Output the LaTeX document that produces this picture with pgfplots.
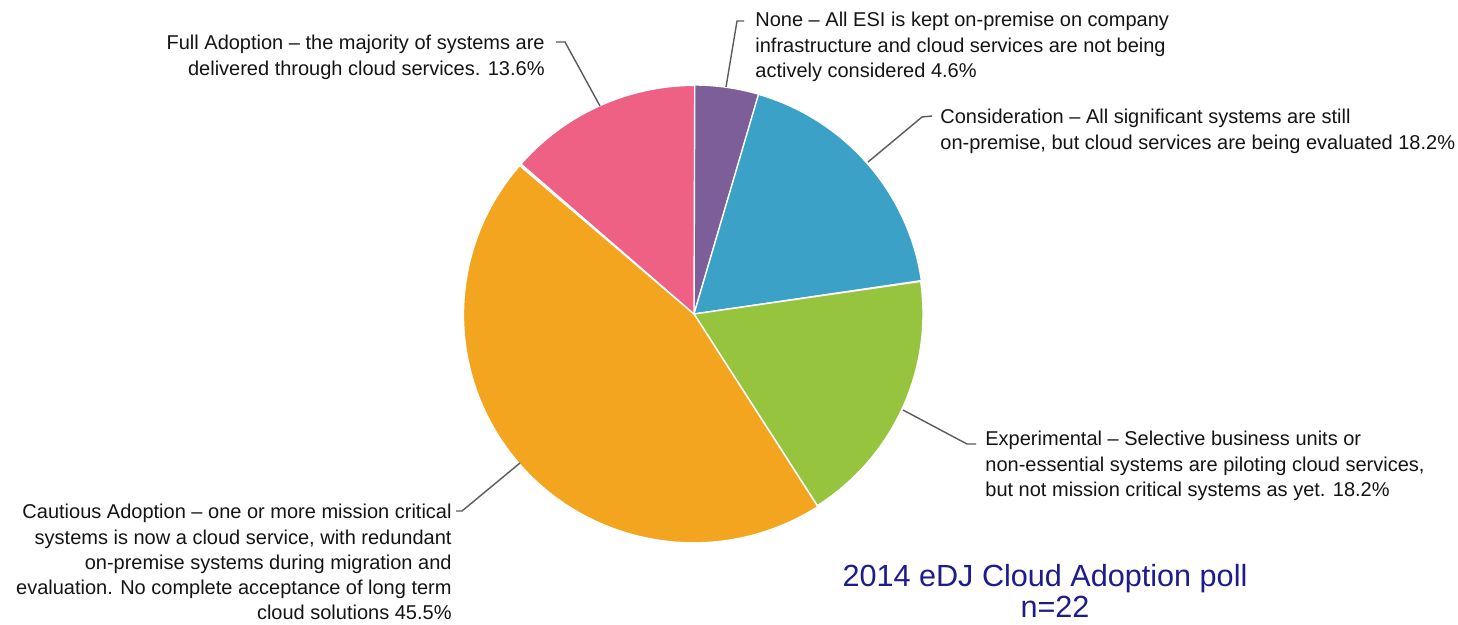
\documentclass[border=0pt]{standalone}
\usepackage{fontspec}
\setmainfont{Liberation Sans}
\usepackage{pgfplots}
\usepackage{pgfplotstable}
\pgfplotsset{compat=1.18}

\definecolor{pNone}{HTML}{7D5E98}
\definecolor{pCons}{HTML}{3BA1C7}
\definecolor{pExp}{HTML}{97C43E}
\definecolor{pCaut}{HTML}{F3A51F}
\definecolor{pFull}{HTML}{EE6185}
\definecolor{txt}{HTML}{141414}
\definecolor{lead}{HTML}{5A5A5A}
\definecolor{navy}{HTML}{1C1C8C}

% answers to the poll, n=22, clockwise from 12 o'clock
\pgfplotstableread{
name          count colour
None          1     pNone
Consideration 4     pCons
Experimental  4     pExp
Cautious      10    pCaut
Full          3     pFull
}\polldata

\begin{document}
\begin{tikzpicture}
\begin{axis}[
    x=0.5bp, y=0.5bp,
    xmin=0, xmax=1458,
    ymin=0, ymax=625,
    y dir=reverse,
    hide axis,
    clip=false,
]
\path (axis cs:0,0) rectangle (axis cs:1458,625);

\pgfplotsextra{
  \pgfplotstablegetrowsof{\polldata}
  \pgfmathtruncatemacro\lastrow{\pgfplotsretval-1}
  \gdef\total{0}
  \foreach \i in {0,...,\lastrow}{
    \pgfplotstablegetelem{\i}{count}\of\polldata
    \pgfmathsetmacro\tmp{\total+\pgfplotsretval}
    \global\let\total\tmp
  }
  \gdef\angA{90}
  \foreach \i in {0,...,\lastrow}{
    \pgfplotstablegetelem{\i}{count}\of\polldata
    \let\cnt\pgfplotsretval
    \pgfplotstablegetelem{\i}{colour}\of\polldata
    \let\col\pgfplotsretval
    \pgfmathsetmacro\angB{\angA-360*\cnt/\total}
    \fill[fill=\col, draw=white, line width=0.7pt, line join=round]
      (axis cs:694,314) -- ++(\angA:114.5bp)
      arc[start angle=\angA, end angle=\angB, x radius=115bp, y radius=114bp] -- cycle;
    \global\let\angA\angB
  }
}

% leader lines
\draw[lead, line width=0.7bp] (axis cs:600,106) -- (axis cs:565,42) -- (axis cs:556,42);
\draw[lead, line width=0.7bp] (axis cs:726,87) -- (axis cs:737,21) -- (axis cs:744,21);
\draw[lead, line width=0.7bp] (axis cs:868,162) -- (axis cs:922,117) -- (axis cs:932,116);
\draw[lead, line width=0.7bp] (axis cs:903,410) -- (axis cs:967,444) -- (axis cs:976,444);
\draw[lead, line width=0.7bp] (axis cs:520,463) -- (axis cs:462,511) -- (axis cs:456,511);

% labels
\begin{scope}[every node/.style={inner sep=0pt, text=txt, font=\fontsize{10bp}{12.6bp}\selectfont}]
\node[anchor=north east, align=right] at (axis cs:545,35)
  {Full Adoption -- the majority of systems are\\delivered through cloud services. 13.6\%};
\node[anchor=north west, align=left] at (axis cs:755,12)
  {None -- All ESI is kept on-premise on company\\infrastructure and cloud services are not being\\actively considered 4.6\%};
\node[anchor=north west, align=left] at (axis cs:940,109)
  {Consideration -- All significant systems are still\\on-premise, but cloud services are being evaluated 18.2\%};
\node[anchor=north west, align=left] at (axis cs:985,431)
  {Experimental -- Selective business units or\\non-essential systems are piloting cloud services,\\but not mission critical systems as yet. 18.2\%};
\node[anchor=north east, align=right] at (axis cs:452,504)
  {Cautious Adoption -- one or more mission critical\\systems is now a cloud service, with redundant\\on-premise systems during migration and\\evaluation. No complete acceptance of long term\\cloud solutions 45.5\%};
\end{scope}

% title
\node[inner sep=0pt, anchor=north, text=navy, font=\fontsize{15.3bp}{17.5bp}\selectfont]
  at (axis cs:1045,564) {2014 eDJ Cloud Adoption poll};
\node[inner sep=0pt, anchor=north, text=navy, font=\fontsize{15.3bp}{17.5bp}\selectfont]
  at (axis cs:1055,596) {n=22};
\end{axis}
\end{tikzpicture}
\end{document}
